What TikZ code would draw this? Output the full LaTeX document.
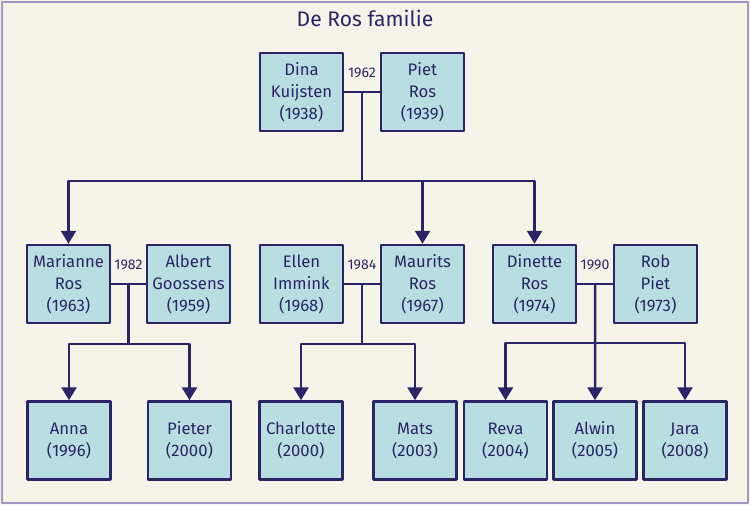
\documentclass[tikz,border=0pt]{standalone}
\usepackage{fontspec}
\setmainfont{Fira Sans}
\usetikzlibrary{arrows.meta,positioning}

\definecolor{achtergrond}{HTML}{F6F3E8}
\definecolor{rand}{HTML}{9F98C4}
\definecolor{vak}{HTML}{B9DEE1}
\definecolor{inkt}{HTML}{2B2568}

\begin{document}
\begin{tikzpicture}[x=0.02cm,y=-0.02cm,line join=round,
    persoon/.style={draw=inkt,fill=vak,line width=0.05cm,text=inkt,
      minimum width=1.66cm,minimum height=1.56cm,inner sep=0pt,
      align=center,font=\fontsize{9.5}{12.5}\selectfont},
    jaar/.style={text=inkt,inner sep=1pt,font=\fontsize{8}{9}\selectfont},
    lijn/.style={draw=inkt,line width=0.05cm},
    pijl/.style={lijn,-{Triangle[width=0.3cm,length=0.26cm,fill=inkt]}}]

  % ---- achtergrond en kader -------------------------------------------------
  \useasboundingbox (0,0) rectangle (750,505);
  \fill[achtergrond] (0,0) rectangle (750,505);
  \draw[rand,line width=0.04cm] (2,1.5) rectangle (748,503);

  \node[text=inkt,font=\fontsize{12}{14}\selectfont] (titel) at (365,18) {De Ros familie};

  % ---- eerste generatie -----------------------------------------------------
  \node[persoon] (dina) at (301.5,92) {Dina\\Kuijsten\\(1938)};
  \node[persoon] (piet) at (422.5,92) {Piet\\Ros\\(1939)};

  % ---- tweede generatie -----------------------------------------------------
  \node[persoon] (marianne) at (68.5,284)  {Marianne\\Ros\\(1963)};
  \node[persoon] (albert)   at (188.5,284) {Albert\\Goossens\\(1959)};
  \node[persoon] (ellen)    at (301.5,284) {Ellen\\Immink\\(1968)};
  \node[persoon] (maurits)  at (422.5,284) {Maurits\\Ros\\(1967)};
  \node[persoon] (dinette)  at (534.5,284) {Dinette\\Ros\\(1974)};
  \node[persoon] (rob)      at (655.5,284) {Rob\\Piet\\(1973)};

  % ---- derde generatie ------------------------------------------------------
  \node[persoon] (anna)      at (69,440.5)  {Anna\\(1996)};
  \node[persoon] (pieter)    at (189.5,440.5) {Pieter\\(2000)};
  \node[persoon] (charlotte) at (301,440.5) {Charlotte\\(2000)};
  \node[persoon] (mats)      at (415,440.5) {Mats\\(2003)};
  \node[persoon] (reva)      at (505.5,440.5) {Reva\\(2004)};
  \node[persoon] (alwin)     at (595,440.5) {Alwin\\(2005)};
  \node[persoon] (jara)      at (685,440.5) {Jara\\(2008)};

  % ---- huwelijken -----------------------------------------------------------
  \draw[lijn] (dina.east) -- coordinate (h1) (piet.west);
  \draw[lijn] (marianne.east) -- coordinate (h2) (albert.west);
  \draw[lijn] (ellen.east) -- coordinate (h3) (maurits.west);
  \draw[lijn] (dinette.east) -- coordinate (h4) (rob.west);

  \node[jaar,above=0.24cm of h1] (j1) {1962};
  \node[jaar,above=0.24cm of h2] (j2) {1982};
  \node[jaar,above=0.24cm of h3] (j3) {1984};
  \node[jaar,above=0.24cm of h4] (j4) {1990};

  % ---- kinderen -------------------------------------------------------------
  \coordinate (s1) at (h1 |- 0,181);
  \coordinate (s2) at (h2 |- 0,344);
  \coordinate (s3) at (h3 |- 0,344);
  \coordinate (s4) at (h4 |- 0,343);

  \draw[lijn] (h1) -- (s1);
  \draw[pijl] (s1) -| (marianne);
  \draw[pijl] (s1) -| (maurits);
  \draw[pijl] (s1) -| (dinette);

  \draw[lijn] (h2) -- (s2);
  \draw[pijl] (s2) -| (anna);
  \draw[pijl] (s2) -| (pieter);

  \draw[lijn] (h3) -- (s3);
  \draw[pijl] (s3) -| (charlotte);
  \draw[pijl] (s3) -| (mats);

  \draw[pijl] (h4) -- (alwin);
  \draw[pijl] (s4) -| (reva);
  \draw[pijl] (s4) -| (jara);

\end{tikzpicture}
\end{document}
